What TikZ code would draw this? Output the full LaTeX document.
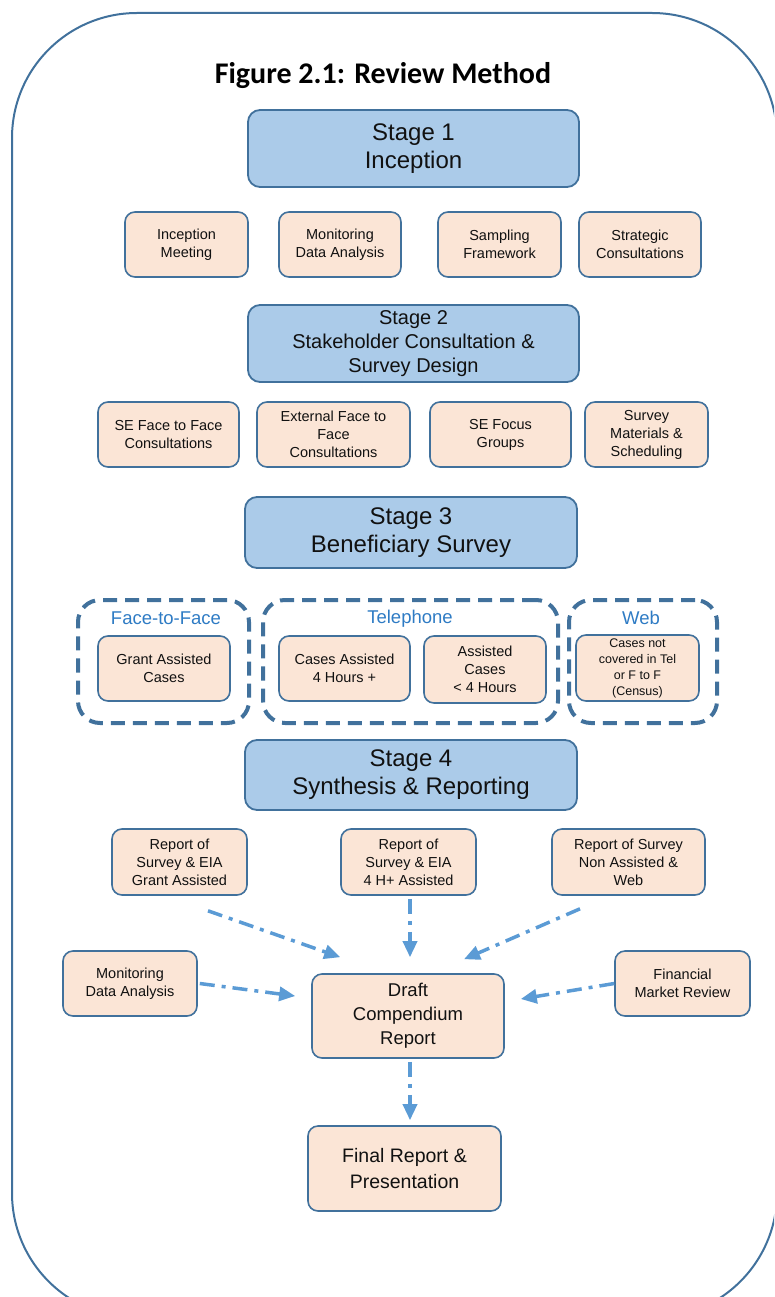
\documentclass[tikz,border=0pt]{standalone}
\usepackage{fontspec}
\setmainfont{Liberation Sans}
\newfontfamily\titlefont{Carlito}
\usetikzlibrary{arrows.meta,calc}
\definecolor{frameblue}{HTML}{41719C}
\definecolor{stagefill}{HTML}{ABCBE9}
\definecolor{subfill}{HTML}{FBE5D6}
\definecolor{arrowblue}{HTML}{5B9BD5}
\definecolor{labelblue}{HTML}{2E7BC4}
\definecolor{txt}{HTML}{111111}
\tikzset{
  stagebox/.style={draw=frameblue, fill=stagefill, line width=1.8pt, rounded corners=12pt, align=center, text=txt, inner sep=2pt, font=\fontsize{24}{28}\selectfont},
  subbox/.style={draw=frameblue, fill=subfill, line width=1.6pt, rounded corners=10pt, align=center, text=txt, inner sep=2pt, font=\fontsize{14.5}{18}\selectfont},
  groupbox/.style={draw=frameblue, line width=4pt, rounded corners=22pt, dash pattern=on 14pt off 8pt},
  grouplabel/.style={text=labelblue, font=\fontsize{18.5}{22}\selectfont, inner sep=0pt},
  flow/.style={draw=arrowblue, line width=3.5pt, dash pattern=on 15pt off 7pt on 4pt off 7pt, -{Triangle[length=16pt,width=14pt]}},
}
\begin{document}
\begin{tikzpicture}[x=1pt,y=-1pt]
\useasboundingbox (0,0) rectangle (774,1297);
\clip (0,0) rectangle (774,1297);
% outer frame
\draw[frameblue, line width=2pt, rounded corners=125pt] (12,13) rectangle (777,1318);
% title
\node[font=\titlefont\bfseries\fontsize{30}{34}\selectfont, text=black] (title) at (383,76) {Figure 2.1: Review Method};
% stage 1
\node[stagebox, minimum width=331, minimum height=77] (s1) at (413.5,148.5) {Stage 1\\Inception};
\node[subbox, minimum width=123, minimum height=65] (a1) at (186.5,244.5) {Inception\\Meeting};
\node[subbox, minimum width=122, minimum height=65] (a2) at (340,244.5) {Monitoring\\Data Analysis};
\node[subbox, minimum width=123, minimum height=65] (a3) at (499.5,244.5) {Sampling\\Framework};
\node[subbox, minimum width=122, minimum height=65] (a4) at (640,244.5) {Strategic\\Consultations};
% stage 2
\node[stagebox, font=\fontsize{20}{24}\selectfont, minimum width=331, minimum height=77] (s2) at (413.5,343.5) {Stage 2\\Stakeholder Consultation \&\\Survey Design};
\node[subbox, minimum width=141, minimum height=65] (b1) at (168.5,434.5) {SE Face to Face\\Consultations};
\node[subbox, minimum width=153, minimum height=65] (b2) at (333.5,434.5) {External Face to\\Face\\Consultations};
\node[subbox, minimum width=141, minimum height=65] (b3) at (500.5,434.5) {SE Focus\\Groups};
\node[subbox, minimum width=123, minimum height=65] (b4) at (646.5,434.5) {Survey\\Materials \&\\Scheduling};
% stage 3
\node[stagebox, minimum width=332, minimum height=71] (s3) at (411,532.5) {Stage 3\\Beneficiary Survey};
\node[groupbox, minimum width=171, minimum height=123] (g1) at (163.5,661.5) {};
\node[groupbox, minimum width=295, minimum height=123] (g2) at (410.5,661.5) {};
\node[groupbox, minimum width=148, minimum height=123] (g3) at (643,661.5) {};
\node[grouplabel] (l1) at (166,618) {Face-to-Face};
\node[grouplabel] (l2) at (410,619) {Telephone};
\node[grouplabel] (l3) at (641,618) {Web};
\node[subbox, minimum width=132, minimum height=65] (c1) at (164,668.5) {Grant Assisted\\Cases};
\node[subbox, minimum width=131, minimum height=65] (c2) at (344.5,668.5) {Cases Assisted\\4 Hours +};
\node[subbox, minimum width=122, minimum height=67] (c3) at (485,669.5) {Assisted\\Cases\\< 4 Hours};
\node[subbox, font=\fontsize{12.5}{16}\selectfont, minimum width=123, minimum height=66] (c4) at (637.5,668) {Cases not\\covered in Tel\\or F to F\\(Census)};
% stage 4
\node[stagebox, minimum width=332, minimum height=70] (s4) at (411,775) {Stage 4\\Synthesis \& Reporting};
\node[subbox, minimum width=135, minimum height=66] (r1) at (179.5,862) {Report of\\Survey \& EIA\\Grant Assisted};
\node[subbox, minimum width=135, minimum height=66] (r2) at (408.5,862) {Report of\\Survey \& EIA\\4 H+ Assisted};
\node[subbox, minimum width=153, minimum height=66] (r3) at (628.5,862) {Report of Survey\\Non Assisted \&\\Web};
\node[subbox, minimum width=134, minimum height=65] (m) at (130,983.5) {Monitoring\\Data Analysis};
\node[subbox, minimum width=135, minimum height=65] (f) at (682.5,983.5) {Financial\\Market Review};
\node[subbox, font=\fontsize{18.5}{24}\selectfont, minimum width=192, minimum height=84] (dr) at (408,1016) {Draft\\Compendium\\Report};
\node[subbox, font=\fontsize{19.5}{26}\selectfont, minimum width=193, minimum height=85] (fin) at (404.5,1168.5) {Final Report \&\\Presentation};
% connectors
\draw[flow] ([xshift=28.5pt,yshift=-15pt]r1.south) -- ([xshift=29pt,yshift=16pt]dr.north west);
\draw[flow] ([xshift=1.5pt,yshift=-3pt]r2.south) -- ([xshift=2pt,yshift=16pt]dr.north);
\draw[flow] ([xshift=-48.5pt,yshift=-13pt]r3.south) -- ([xshift=56pt,yshift=14pt]dr.north);
\draw[flow] ([xshift=2pt]m.east) -- ([xshift=-16pt,yshift=20pt]dr.west);
\draw[flow] (f.west) -- ([xshift=16pt,yshift=17pt]dr.east);
\draw[flow] ([xshift=2pt,yshift=-3pt]dr.south) -- ([xshift=5.5pt,yshift=5pt]fin.north);
\end{tikzpicture}
\end{document}
